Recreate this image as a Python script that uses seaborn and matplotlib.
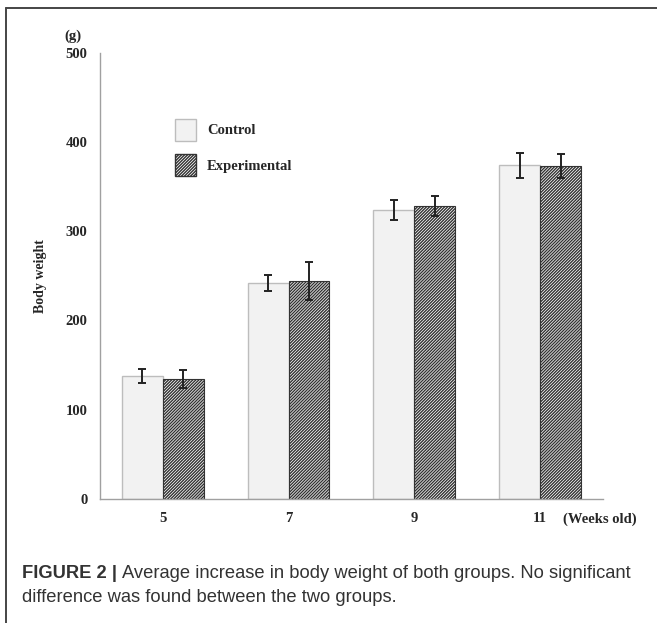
import matplotlib
matplotlib.use("Agg")
import matplotlib.pyplot as plt
from matplotlib.lines import Line2D
from matplotlib.patches import Patch
import seaborn as sns
import pandas as pd
import numpy as np

weeks = ["5", "7", "9", "11"]
groups = ["Control", "Experimental"]
control_mean = [138, 242, 324, 374]
control_sd = [8, 9, 11.5, 14]
exp_mean = [134, 244, 328, 373]
exp_sd = [10, 21, 11, 13.5]
y_ticks = [0, 100, 200, 300, 400, 500]

df = pd.DataFrame({
    "week": weeks * 2,
    "group": [groups[0]] * 4 + [groups[1]] * 4,
    "weight": control_mean + exp_mean,
    "sd": control_sd + exp_sd,
})

sns.set_style("white")
plt.rcParams["hatch.linewidth"] = 1.0
plt.rcParams["hatch.color"] = "#333333"
serif = ["Liberation Serif", "DejaVu Serif"]
fs = 10.5
HATCH = "/" * 11

fig = plt.figure(figsize=(6.57, 6.23), dpi=100)
ax = fig.add_axes([99.8 / 657, 124 / 623, (603 - 99.8) / 657, (499 - 52.7) / 623])

sns.barplot(data=df, x="week", y="weight", hue="group", order=weeks, hue_order=groups,
            palette={"Control": "#f2f2f2", "Experimental": "#ffffff"},
            width=0.65, errorbar=None, ax=ax, legend=False, saturation=1)

n = len(weeks)
patches = list(ax.patches)
for i, p in enumerate(patches):
    if i < n:
        p.set_edgecolor("#bdbdbd")
        p.set_linewidth(1.0)
        p.set_facecolor("#f2f2f2")
    else:
        p.set_facecolor("#ffffff")
        p.set_edgecolor("#333333")
        p.set_hatch(HATCH)
        p.set_linewidth(0.8)

for i, p in enumerate(patches):
    cx = p.get_x() + p.get_width() / 2
    h = p.get_height()
    sd = df["sd"].iloc[i]
    ax.errorbar(cx, h, yerr=sd, fmt="none", ecolor="#222222", elinewidth=1.4,
                capsize=3, capthick=1.4, zorder=5)

ax.set_ylim(0, 500)
ax.set_xlim(-0.5, n - 0.5)
ax.set_yticks(y_ticks)
ax.set_yticklabels([str(t) for t in y_ticks], fontfamily=serif, fontweight="bold", fontsize=fs)
ax.set_xticks(range(n))
ax.set_xticklabels(weeks, fontfamily=serif, fontweight="bold", fontsize=fs)
ax.set_xticks(np.arange(-0.5, n, 1.0), minor=True)
ax.tick_params(axis="x", which="major", length=0, pad=9)
ax.tick_params(axis="x", which="minor", length=5, width=0.9, color="#a0a0a0", direction="out")
ax.tick_params(axis="y", which="major", length=4, width=0.9, color="#a0a0a0", direction="out", pad=5)
for s in ["top", "right"]:
    ax.spines[s].set_visible(False)
for s in ["left", "bottom"]:
    ax.spines[s].set_color("#a0a0a0")
    ax.spines[s].set_linewidth(1.0)
ax.set_xlabel("")
ax.set_ylabel("Body weight", fontfamily=serif, fontweight="bold", fontsize=10, labelpad=13)

fig.text(73 / 657, 1 - 36 / 623, "(g)", fontfamily=serif, fontweight="bold", fontsize=fs,
         ha="center", va="center")
fig.text(600 / 657, 1 - 519 / 623, "(Weeks old)", fontfamily=serif, fontweight="bold", fontsize=fs,
         ha="center", va="center")

handles = [Patch(facecolor="#f2f2f2", edgecolor="#bdbdbd", label="Control"),
           Patch(facecolor="#ffffff", edgecolor="#333333", hatch=HATCH, label="Experimental")]
leg = ax.legend(handles=handles, loc="upper left",
                bbox_to_anchor=((175 - 99.8) / 503, (499 - 119) / 446.3),
                frameon=False, prop={"family": serif, "weight": "bold", "size": fs},
                handlelength=1.45, handleheight=1.9, labelspacing=0.95, handletextpad=0.75,
                borderaxespad=0, borderpad=0)

fig.add_artist(Line2D([6 / 657, 1], [1 - 8 / 623, 1 - 8 / 623], color="#454545", lw=1.4,
                      transform=fig.transFigure))
fig.add_artist(Line2D([6 / 657, 6 / 657], [0, 1 - 8 / 623], color="#454545", lw=1.4,
                      transform=fig.transFigure))

cap_font = ["Liberation Sans", "DejaVu Sans"]
cap_size = 13.2
cap_color = "#333333"
t1 = fig.text(22 / 657, 1 - 573 / 623, "FIGURE 2 |", fontfamily=cap_font, fontweight="bold",
              fontsize=cap_size, color=cap_color, va="center", ha="left")
fig.canvas.draw()
bb = t1.get_window_extent()
x2 = (bb.x1 + 5) / fig.bbox.width
fig.text(x2, 1 - 573 / 623, "Average increase in body weight of both groups. No significant",
         fontfamily=cap_font, fontsize=cap_size, color=cap_color, va="center", ha="left")
fig.text(22 / 657, 1 - 598 / 623, "difference was found between the two groups.",
         fontfamily=cap_font, fontsize=cap_size, color=cap_color, va="center", ha="left")

fig.savefig("out.png", dpi=100)
